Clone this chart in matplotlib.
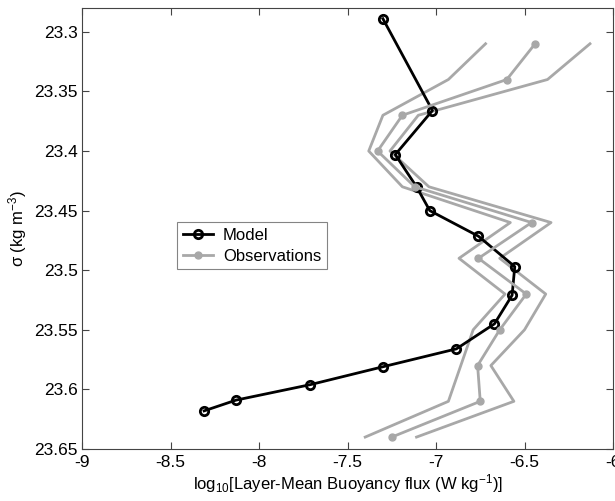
import numpy as np
import matplotlib
matplotlib.use("Agg")
import matplotlib.pyplot as plt

# model profile (sigma levels, log10 flux)
model_sigma = [23.289, 23.366, 23.403, 23.43, 23.45, 23.4715, 23.497, 23.521,
               23.545, 23.566, 23.581, 23.596, 23.609, 23.618]
model_flux = [-7.30, -7.02, -7.23, -7.11, -7.035, -6.76, -6.555, -6.57,
              -6.67, -6.885, -7.30, -7.71, -8.13, -8.31]

# observations with lower / upper bounds
obs_sigma = [23.31, 23.34, 23.37, 23.40, 23.43, 23.46, 23.49, 23.52,
             23.55, 23.58, 23.61, 23.64]
obs_flux = [-6.44, -6.60, -7.19, -7.33, -7.12, -6.46, -6.76, -6.49,
            -6.64, -6.765, -6.75, -7.25]
obs_low = [-6.72, -6.93, -7.30, -7.38, -7.19, -6.58, -6.87, -6.61,
           -6.79, -6.86, -6.93, -7.40]
obs_high = [-6.13, -6.37, -7.10, -7.26, -7.04, -6.35, -6.64, -6.38,
            -6.50, -6.69, -6.56, -7.11]

xticks = [-9, -8.5, -8, -7.5, -7, -6.5, -6]
yticks = [23.3, 23.35, 23.4, 23.45, 23.5, 23.55, 23.6, 23.65]

plt.rcParams['font.family'] = ['Liberation Sans', 'DejaVu Sans']
plt.rcParams['axes.unicode_minus'] = False
plt.rcParams['mathtext.fontset'] = 'custom'
plt.rcParams['mathtext.rm'] = 'Liberation Sans'
plt.rcParams['mathtext.it'] = 'Liberation Sans'

gray = '#a8a8a8'

fig = plt.figure(figsize=(6.15, 5.01), dpi=100)
ax = fig.add_axes([82 / 615, 1 - 449 / 501, 531 / 615, 441 / 501])

ax.plot(obs_low, obs_sigma, color=gray, lw=2)
ax.plot(obs_high, obs_sigma, color=gray, lw=2)
ax.plot(model_flux, model_sigma, color='black', lw=2, marker='o', ms=6,
        mfc='none', mec='black', mew=2, label='Model')
ax.plot(obs_flux, obs_sigma, color=gray, lw=2, marker='o', ms=5,
        mfc=gray, mec=gray, label='Observations')

ax.set_xlim(-9, -6)
ax.set_ylim(23.65, 23.28)
ax.set_xticks(xticks)
ax.set_xticklabels([f"{v:g}" for v in xticks])
ax.set_yticks(yticks)
ax.set_yticklabels([f"{v:g}" for v in yticks])

ax.tick_params(direction='in', length=5, width=0.8, top=True, right=True,
               labelsize=12.5, color='#444444')
ax.tick_params(axis='x', pad=4)
ax.tick_params(axis='y', pad=3)
for s in ax.spines.values():
    s.set_color('#444444')
    s.set_linewidth(0.8)

ax.set_xlabel(r'log$_{10}$[Layer-Mean Buoyancy flux (W kg$^{-1}$)]', fontsize=12, labelpad=2)
ax.set_ylabel(r'σ (kg m$^{-3}$)', fontsize=12, labelpad=4)

leg = ax.legend(loc='upper left', bbox_to_anchor=(0.179, 0.515), fontsize=12,
                frameon=True, fancybox=False, handlelength=1.8, borderpad=0.35,
                labelspacing=0.35, handletextpad=0.6, borderaxespad=0)
leg.get_frame().set_edgecolor('#666666')
leg.get_frame().set_linewidth(0.8)

plt.savefig('out.png', dpi=100)
